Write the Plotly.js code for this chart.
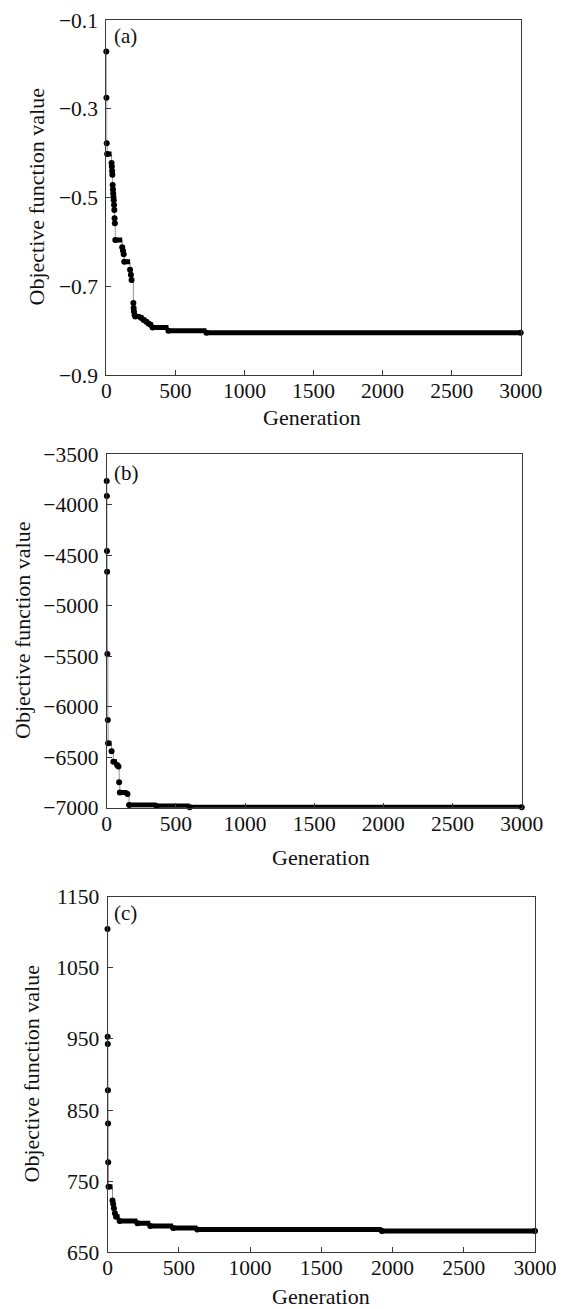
<!DOCTYPE html>
<html>
<head>
<meta charset="utf-8">
<script src="https://cdn.plot.ly/plotly-3.0.1.min.js"></script>
<style>
  html, body { margin: 0; padding: 0; background: #fff; }
  #chart { width: 561px; height: 1309px; }
</style>
</head>
<body>
<div id="chart"></div>
<script>
// ---- Data ----
// Each series is a best-so-far step curve: generation where a value starts, and that value.
var genA = [0, 1, 3, 6, 38, 40, 42, 44, 46, 48, 50, 52, 54, 56, 58, 60, 62, 65, 115, 121, 126, 130, 172, 178, 183, 196, 198, 200, 205, 210, 250, 270, 290, 305, 320, 335, 450, 725, 3000];
var valA = [-0.171, -0.275, -0.378, -0.402, -0.422, -0.430, -0.440, -0.449, -0.472, -0.482, -0.491, -0.499, -0.506, -0.517, -0.528, -0.547, -0.558, -0.596, -0.612, -0.620, -0.628, -0.645, -0.663, -0.674, -0.686, -0.738, -0.749, -0.757, -0.765, -0.768, -0.771, -0.776, -0.780, -0.784, -0.787, -0.793, -0.800, -0.805, -0.805];

var genB = [0, 1, 2, 3, 5, 8, 10, 35, 48, 75, 85, 90, 95, 150, 162, 360, 600, 3000];
var valB = [-3764, -3913, -4457, -4662, -5478, -6131, -6362, -6440, -6544, -6577, -6593, -6748, -6850, -6865, -6973, -6983, -6996, -6996];

var genC = [0, 1, 2, 3, 4, 5, 7, 35, 40, 45, 52, 60, 85, 210, 300, 460, 630, 1925, 3000];
var valC = [1104.5, 953, 943, 878, 831, 776.5, 742, 723, 718, 712, 705, 700, 694, 691, 687, 684, 682, 680, 680];

var xTicks = [0, 500, 1000, 1500, 2000, 2500, 3000];
var panelLabels = ["(a)", "(b)", "(c)"];
var xTitle = "Generation";
var yTitle = "Objective function value";

// ---- Layout helpers (pixel geometry of the 561x1309 figure) ----
var W = 561, H = 1309;
function fx(px) { return px / W; }
function fy(py) { return 1 - py / H; }

var panels = [
  {gen: genA, val: valA, x0: 106.3, x1: 520.7, y0: 20, y1: 375, range: [-0.9, -0.1], dtick: 0.2,
   label: [112, 36], ytx: 36, xty: 417, xtx: 312},
  {gen: genB, val: valB, x0: 106.7, x1: 521.7, y0: 454.3, y1: 807.7, range: [-7000, -3500], dtick: 500,
   label: [112, 473], ytx: 22, xty: 857, xtx: 321},
  {gen: genC, val: valC, x0: 107.5, x1: 535, y0: 896.7, y1: 1252.3, range: [650, 1150], dtick: 100,
   label: [112, 913], ytx: 31, xty: 1296, xtx: 321}
];

var FONT = "'Liberation Serif', 'Times New Roman', serif";
var AX = "#3a3a3a";
var traces = [];
var layout = {
  width: W, height: H,
  margin: {l: 0, r: 0, t: 0, b: 0},
  paper_bgcolor: "#fff", plot_bgcolor: "#fff",
  showlegend: false,
  font: {family: FONT, size: 21, color: "#111"},
  annotations: []
};

panels.forEach(function (p, i) {
  var xa = i === 0 ? "x" : "x" + (i + 1);
  var ya = i === 0 ? "y" : "y" + (i + 1);
  var xk = i === 0 ? "xaxis" : "xaxis" + (i + 1);
  var yk = i === 0 ? "yaxis" : "yaxis" + (i + 1);

  // thin connector (step line)
  traces.push({x: p.gen, y: p.val, xaxis: xa, yaxis: ya, type: "scatter", mode: "lines",
    line: {shape: "hv", color: "#777", width: 0.8}, cliponaxis: false, hoverinfo: "skip"});

  // thick horizontal runs where the best value stays constant (dense markers merge)
  var sx = [], sy = [];
  for (var k = 0; k < p.gen.length - 1; k++) {
    sx.push(p.gen[k], p.gen[k + 1], null);
    sy.push(p.val[k], p.val[k], null);
  }
  traces.push({x: sx, y: sy, xaxis: xa, yaxis: ya, type: "scatter", mode: "lines",
    line: {color: "#000", width: 5}, cliponaxis: false, connectgaps: false, hoverinfo: "skip"});

  // markers at each step value
  traces.push({x: p.gen, y: p.val, xaxis: xa, yaxis: ya, type: "scatter", mode: "markers",
    marker: {color: "#000", size: 6}, cliponaxis: false});

  layout[xk] = {
    domain: [fx(p.x0), fx(p.x1)], anchor: ya, range: [0, 3000],
    tickvals: xTicks, ticktext: xTicks.map(String),
    ticks: "inside", ticklen: 5, tickwidth: 1, tickcolor: AX,
    showline: true, linecolor: AX, linewidth: 1, mirror: true,
    showgrid: false, zeroline: false,
    tickfont: {family: FONT, size: 21.5, color: "#111"},
    ticklabelstandoff: -4
  };
  layout[yk] = {
    domain: [fy(p.y1), fy(p.y0)], anchor: xa, range: p.range,
    tick0: p.range[0], dtick: p.dtick,
    ticks: "inside", ticklen: 5, tickwidth: 1, tickcolor: AX,
    showline: true, linecolor: AX, linewidth: 1, mirror: true,
    showgrid: false, zeroline: false,
    tickfont: {family: FONT, size: 21.5, color: "#111"},
    ticklabelstandoff: 3
  };

  layout.annotations.push({text: panelLabels[i], xref: "paper", yref: "paper",
    x: fx(p.label[0]), y: fy(p.label[1]), xanchor: "left", yanchor: "middle",
    showarrow: false, font: {family: FONT, size: 21, color: "#111"}});
  layout.annotations.push({text: yTitle, xref: "paper", yref: "paper", textangle: -90,
    x: fx(p.ytx), y: fy((p.y0 + p.y1) / 2), xanchor: "center", yanchor: "middle",
    showarrow: false, font: {family: FONT, size: 22, color: "#111"}});
  layout.annotations.push({text: xTitle, xref: "paper", yref: "paper",
    x: fx(p.xtx), y: fy(p.xty), xanchor: "center", yanchor: "middle",
    showarrow: false, font: {family: FONT, size: 22, color: "#111"}});
});

Plotly.newPlot("chart", traces, layout, {staticPlot: true, displayModeBar: false});
</script>
</body>
</html>
